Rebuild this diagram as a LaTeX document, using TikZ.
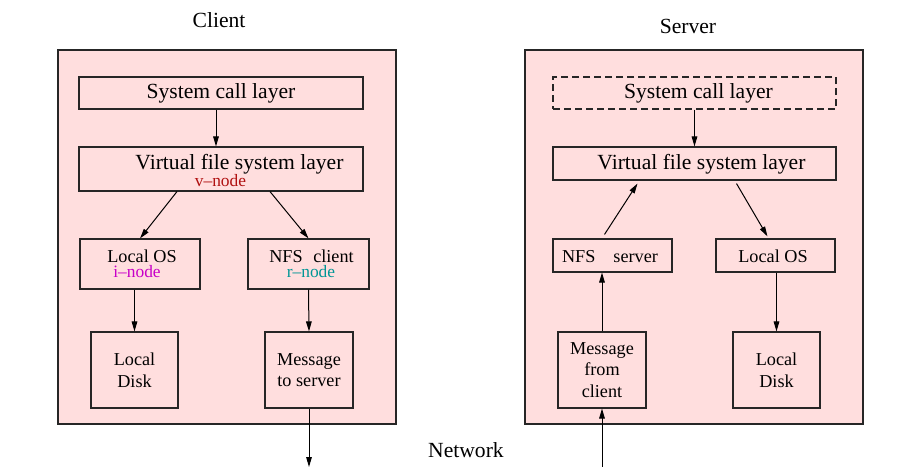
\documentclass[tikz,border=0pt]{standalone}
\usepackage{fontspec}
\setmainfont{Liberation Serif}
\usetikzlibrary{arrows.meta}
\definecolor{pinkfill}{RGB}{255,222,222}
\definecolor{vred}{RGB}{176,16,16}
\definecolor{imag}{RGB}{200,0,200}
\definecolor{rcyan}{RGB}{0,150,150}
\begin{document}
\begin{tikzpicture}[x=0.5pt,y=-0.5pt,
  outer/.style={draw=black!85,line width=0.55pt,fill=pinkfill,inner sep=0},
  box/.style={draw=black!85,line width=0.55pt,fill=pinkfill,inner sep=0,align=center},
  bigtxt/.style={font=\fontsize{10.8}{13}\selectfont,inner sep=0},
  smtxt/.style={font=\fontsize{9.1}{10.8}\selectfont},
  lbl/.style={font=\fontsize{8.7}{10}\selectfont,inner sep=0},
  arr/.style={line width=0.5pt,-{Triangle[length=5pt,width=2.8pt]}}]
\useasboundingbox (0,0) rectangle (902,467);

% outer boxes and titles
\node[outer,minimum width=169pt,minimum height=187pt] (cbox) at (227,237) {};
\node[outer,minimum width=169pt,minimum height=187pt] (sbox) at (694,237) {};
\node[bigtxt,anchor=base] (ctitle) at (219,27) {Client};
\node[bigtxt,anchor=base] (stitle) at (688,33) {Server};

% client
\node[box,bigtxt,minimum width=142pt,minimum height=16pt] (cscl) at (221,93) {System call layer};
\node[box,minimum width=142pt,minimum height=22pt] (cvfs) at (221,169) {};
\node[bigtxt,anchor=base] (cvfst) at (239.5,169) {Virtual file system layer};
\node[lbl,anchor=base,text=vred] (vnode) at (220.5,186) {v--node};
\node[box,minimum width=60pt,minimum height=25pt] (clos) at (140,264) {};
\node[smtxt,inner sep=0,anchor=base] (clost) at (142,262) {Local OS};
\node[lbl,anchor=base,text=imag] (inode) at (137,277) {i--node};
\node[box,minimum width=60.5pt,minimum height=25pt] (cnfs) at (308.5,264) {};
\node[smtxt,inner sep=0,anchor=base] (cnfst) at (311.5,262) {NFS\hspace{5.3pt}client};
\node[lbl,anchor=base,text=rcyan] (rnode) at (311,277) {r--node};
\node[box,smtxt,minimum width=43.5pt,minimum height=38pt] (cdisk) at (134.5,370) {Local\\Disk};
\node[box,smtxt,minimum width=44pt,minimum height=38pt] (cmsg) at (309,370) {Message\\to server};

% server
\node[box,bigtxt,dashed,dash pattern=on 3.5pt off 2pt,minimum width=141.5pt,minimum height=16pt] (sscl) at (694.5,93) {};
\node[bigtxt] (ssclt) at (698.5,93) {System call layer};
\node[box,minimum width=141.5pt,minimum height=16.5pt] (svfs) at (694.5,163.5) {};
\node[bigtxt,anchor=base] (svfst) at (701.5,169) {Virtual file system layer};
\node[box,minimum width=59.5pt,minimum height=16.5pt] (snfs) at (612.5,255.5) {};
\node[smtxt,inner sep=0,anchor=base] (snfst) at (610,262) {NFS\hspace{9pt}server};
\node[box,minimum width=59.5pt,minimum height=16.5pt] (slos) at (775.5,255.5) {};
\node[smtxt,inner sep=0,anchor=base] (slost) at (773,262) {Local OS};
\node[box,smtxt,minimum width=44pt,minimum height=38pt] (smsg) at (602,370) {Message\\from\\client};
\node[box,smtxt,minimum width=43.5pt,minimum height=38pt] (sdisk) at (776.5,370) {Local\\Disk};

\node[bigtxt,anchor=base] (net) at (466,457) {Network};
\coordinate (cnet) at (309,467);
\coordinate (snet) at (602,467);

% client arrows
\draw[arr] ([xshift=-2.5pt]cscl.south) -- ([xshift=-2.5pt]cvfs.north);
\draw[arr] ([xshift=-22pt]cvfs.south) -- (clos.north);
\draw[arr] ([xshift=24.5pt]cvfs.south) -- (cnfs.north);
\draw[arr] (cdisk.north |- clos.south) -- (cdisk.north);
\draw[arr] (cnfs.south) -- (cmsg.north);
\draw[arr] (cmsg.south) -- (cnet);

% server arrows
\draw[arr] (sscl.south) -- (svfs.north);
\draw[arr] ([xshift=-4pt,yshift=2pt]snfs.north) -- ([xshift=-28.5pt,yshift=-1.5pt]svfs.south);
\draw[arr] ([xshift=21pt,yshift=-1.5pt]svfs.south) -- ([xshift=-4pt,yshift=1pt]slos.north);
\draw[arr] (smsg.north) -- (smsg.north |- snfs.south);
\draw[arr] (sdisk.north |- slos.south) -- (sdisk.north);
\draw[arr] (snet) -- (smsg.south);
\end{tikzpicture}
\end{document}
